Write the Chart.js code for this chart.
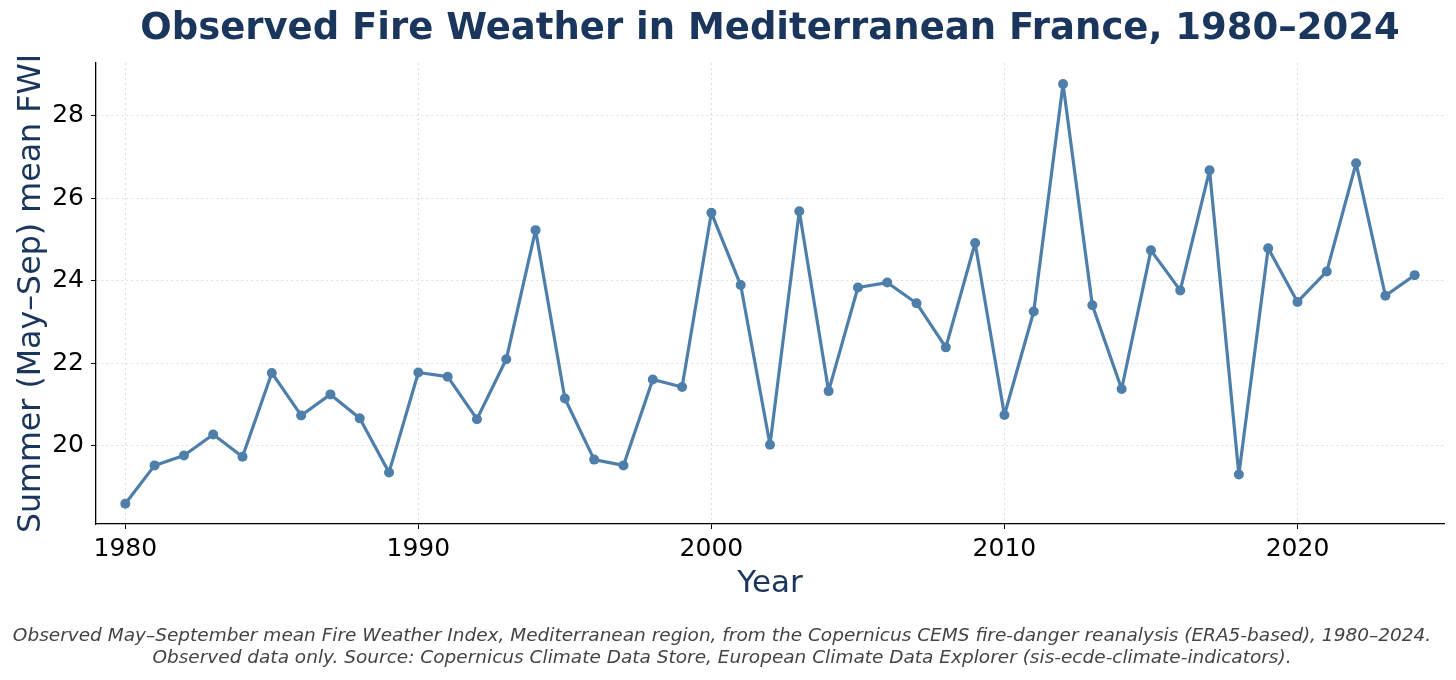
<!DOCTYPE html>
<html>
<head>
<meta charset="utf-8">
<title>Observed Fire Weather in Mediterranean France</title>
<script src="https://cdn.jsdelivr.net/npm/chart.js@4.4.1/dist/chart.umd.min.js"></script>
<style>
  html, body { margin: 0; padding: 0; background: #fff; }
  #wrap { width: 1456px; height: 680px; }
</style>
</head>
<body>
<div id="wrap"><canvas id="fwiChart" width="1456" height="680"></canvas></div>
<script>
// Data
const years = [
  1980, 1981, 1982, 1983, 1984, 1985, 1986, 1987, 1988, 1989,
  1990, 1991, 1992, 1993, 1994, 1995, 1996, 1997, 1998, 1999,
  2000, 2001, 2002, 2003, 2004, 2005, 2006, 2007, 2008, 2009,
  2010, 2011, 2012, 2013, 2014, 2015, 2016, 2017, 2018, 2019,
  2020, 2021, 2022, 2023, 2024,
];
const fwiValues = [
  18.60, 19.53, 19.77, 20.28, 19.74, 21.77, 20.74, 21.25, 20.67, 19.36,
  21.78, 21.68, 20.65, 22.10, 25.23, 21.15, 19.67, 19.53, 21.61, 21.43,
  25.65, 23.90, 20.03, 25.69, 21.33, 23.84, 23.96, 23.46, 22.39, 24.92,
  20.75, 23.26, 28.77, 23.41, 21.38, 24.74, 23.77, 26.68, 19.31, 24.79,
  23.49, 24.23, 26.85, 23.64, 24.14,
];
const xTicks = [1980, 1990, 2000, 2010, 2020];
const yTicks = [20, 22, 24, 26, 28];

const titleText = "Observed Fire Weather in Mediterranean France, 1980\u20132024";
const captionLines = [
  "Observed May\u2013September mean Fire Weather Index, Mediterranean region, from the Copernicus CEMS fire-danger reanalysis (ERA5-based), 1980\u20132024.",
  "Observed data only. Source: Copernicus Climate Data Store, European Climate Data Explorer (sis-ecde-climate-indicators).",
];

const colorLine = "#4e7fab";
const colorNavy = "#1b365d";
const colorGrid = "#dcdcdc";
const fontFamily = '"DejaVu Sans", Verdana, sans-serif';

// title centred over the plot area, like the original
const plotTitle = {
  id: "plotTitle",
  afterDraw(chart) {
    const { ctx, chartArea } = chart;
    ctx.save();
    ctx.font = "bold 37px " + fontFamily;
    ctx.fillStyle = colorNavy;
    ctx.textAlign = "center";
    ctx.textBaseline = "middle";
    ctx.fillText(titleText, (chartArea.left + chartArea.right) / 2, 29);
    ctx.restore();
  },
};

const points = years.map((yr, i) => ({ x: yr, y: fwiValues[i] }));

const ctx = document.getElementById("fwiChart").getContext("2d");
new Chart(ctx, {
  type: "line",
  data: {
    datasets: [
      {
        label: "FWI",
        data: points,
        borderColor: colorLine,
        backgroundColor: colorLine,
        borderWidth: 3.2,
        borderJoinStyle: "round",
        borderCapStyle: "round",
        pointRadius: 5,
        pointBackgroundColor: colorLine,
        pointBorderWidth: 0,
        tension: 0,
      },
    ],
  },
  options: {
    responsive: false,
    devicePixelRatio: 1,
    animation: false,
    layout: { padding: { top: 63, left: 0, right: 12, bottom: 2 } },
    plugins: {
      legend: { display: false },
      tooltip: { enabled: false },
      title: { display: false },
      subtitle: {
        display: true,
        position: "bottom",
        text: captionLines,
        color: "#444444",
        font: { family: fontFamily, size: 18.5, style: "italic", lineHeight: 22 / 18.5 },
        padding: { top: 20.3, bottom: 9 },
      },
    },
    scales: {
      x: {
        type: "linear",
        min: 1979,
        max: 2025,
        afterBuildTicks: (axis) => {
          axis.ticks = xTicks.map((v) => ({ value: v }));
        },
        afterFit: (axis) => {
          axis.height = 80.7;
        },
        ticks: {
          color: "#000",
          font: { family: fontFamily, size: 25 },
          padding: 5,
          maxRotation: 0,
          callback: (v) => String(v),
        },
        grid: {
          color: colorGrid,
          lineWidth: 1,
          tickColor: "#000",
          tickLength: 5,
          tickWidth: 1,
        },
        border: { display: true, color: "#000", width: 1.3, dash: [2, 3] },
        title: {
          display: true,
          text: "Year",
          color: colorNavy,
          font: { family: fontFamily, size: 31 },
          padding: { top: 2, bottom: 2 },
        },
      },
      y: {
        type: "linear",
        min: 18.11,
        max: 29.28,
        afterBuildTicks: (axis) => {
          axis.ticks = yTicks.map((v) => ({ value: v }));
        },
        afterFit: (axis) => {
          axis.width = 96;
        },
        ticks: {
          color: "#000",
          font: { family: fontFamily, size: 25 },
          padding: 7,
          callback: (v) => String(v),
        },
        grid: {
          color: colorGrid,
          lineWidth: 1,
          tickColor: "#000",
          tickLength: 5,
          tickWidth: 1,
        },
        border: { display: true, color: "#000", width: 1.3, dash: [2, 3] },
        title: {
          display: true,
          text: "Summer (May\u2013Sep) mean FWI",
          color: colorNavy,
          font: { family: fontFamily, size: 31.7 },
          padding: { top: 13, bottom: 0 },
        },
      },
    },
  },
  plugins: [plotTitle],
});
</script>
</body>
</html>
